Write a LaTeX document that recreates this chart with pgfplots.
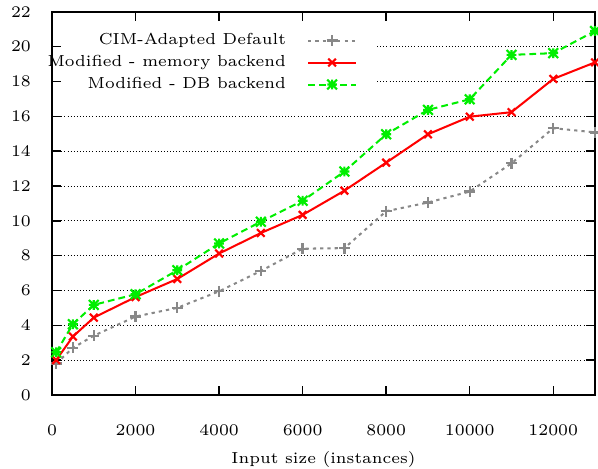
\documentclass[border=0pt]{standalone}
\usepackage{pgfplots}
\pgfplotsset{compat=1.18}
\definecolor{cimgray}{RGB}{136,136,136}
\definecolor{dbgreen}{RGB}{0,238,0}
\pgfdeclareplotmark{gstar}{%
 \pgfpathmoveto{\pgfqpoint{-\pgfplotmarksize}{0pt}}\pgfpathlineto{\pgfqpoint{\pgfplotmarksize}{0pt}}%
 \pgfpathmoveto{\pgfqpoint{0pt}{-\pgfplotmarksize}}\pgfpathlineto{\pgfqpoint{0pt}{\pgfplotmarksize}}%
 \pgfpathmoveto{\pgfqpoint{-\pgfplotmarksize}{-\pgfplotmarksize}}\pgfpathlineto{\pgfqpoint{\pgfplotmarksize}{\pgfplotmarksize}}%
 \pgfpathmoveto{\pgfqpoint{-\pgfplotmarksize}{\pgfplotmarksize}}\pgfpathlineto{\pgfqpoint{\pgfplotmarksize}{-\pgfplotmarksize}}%
 \pgfusepathqstroke}
\pgfplotstableread{
x     cim    mem    db
100   1.80   2.00   2.45
500   2.70   3.35   4.06
1000  3.40   4.44   5.17
2000  4.50   5.62   5.78
3000  5.00   6.66   7.16
4000  5.95   8.12   8.70
5000  7.12   9.30   9.95
6000  8.40   10.34  11.15
7000  8.43   11.73  12.83
8000  10.55  13.34  14.97
9000  11.05  14.97  16.37
10000 11.68  15.98  16.98
11000 13.30  16.24  19.53
12000 15.32  18.15  19.63
13000 15.08  19.10  20.90
}\datatable
\begin{document}
\begin{tikzpicture}[font=\fontsize{5.9}{7.1}\selectfont]
\path[use as bounding box] (-19.24pt,-27.4pt) rectangle (202pt,146.1pt);
\begin{axis}[
  at={(0,0)}, anchor=south west,
  scale only axis, width=200.9pt, height=141.7pt,
  xmin=0, xmax=13000, ymin=0, ymax=22,
  xtick={0,2000,...,12000}, ytick={0,2,...,22},
  scaled x ticks=false,
  xticklabel style={/pgf/number format/1000 sep={}, yshift=-7.6pt},
  yticklabel style={xshift=-4.3pt},
  tick align=inside, major tick length=3.33pt,
  axis line style={line width=0.55pt},
  every tick/.style={black, line width=0.55pt},
  xlabel={Input size (instances)},
  xlabel style={at={(axis description cs:0.5,0)}, anchor=base, yshift=-25.2pt},
  legend plot pos=right,
  legend cell align=right,
  legend image code/.code={\draw[mark repeat=2,mark phase=2,#1] plot coordinates {(0pt,0pt) (8.9pt,0pt) (17.8pt,0pt)};},
  legend style={draw=none, fill=none, inner sep=0pt, outer sep=0pt,
    at={(axis description cs:0.562,0.9457)}, anchor=north east,
    column sep=7.8pt, row sep=2.34pt,
    nodes={inner sep=0pt, text height=4.5pt, text depth=1.3pt}},
]
\pgfplotsinvokeforeach{2,4,...,16}{\draw[black, line width=0.3pt, dash pattern=on 0.35pt off 0.8pt] (axis cs:0,#1) -- (axis cs:13000,#1);}
\pgfplotsinvokeforeach{18,20}{\draw[black, line width=0.3pt, dash pattern=on 0.35pt off 0.8pt] (axis cs:7784,#1) -- (axis cs:13000,#1);}
\addplot[cimgray, line width=0.75pt, dash pattern=on 1.2pt off 1.5pt, mark=+, mark size=2pt, mark options={solid, line width=0.85pt}] table[x=x,y=cim] {\datatable};
\addlegendentry{CIM-Adapted Default}
\addplot[red, line width=0.75pt, mark=x, mark size=2pt, mark options={solid, line width=0.8pt}] table[x=x,y=mem] {\datatable};
\addlegendentry{Modified - memory backend}
\addplot[dbgreen, line width=0.75pt, dash pattern=on 2.5pt off 1.5pt, mark=gstar, mark size=1.8pt, mark options={solid, line width=0.8pt}] table[x=x,y=db] {\datatable};
\addlegendentry{Modified - DB backend}
\end{axis}
\end{tikzpicture}
\end{document}
